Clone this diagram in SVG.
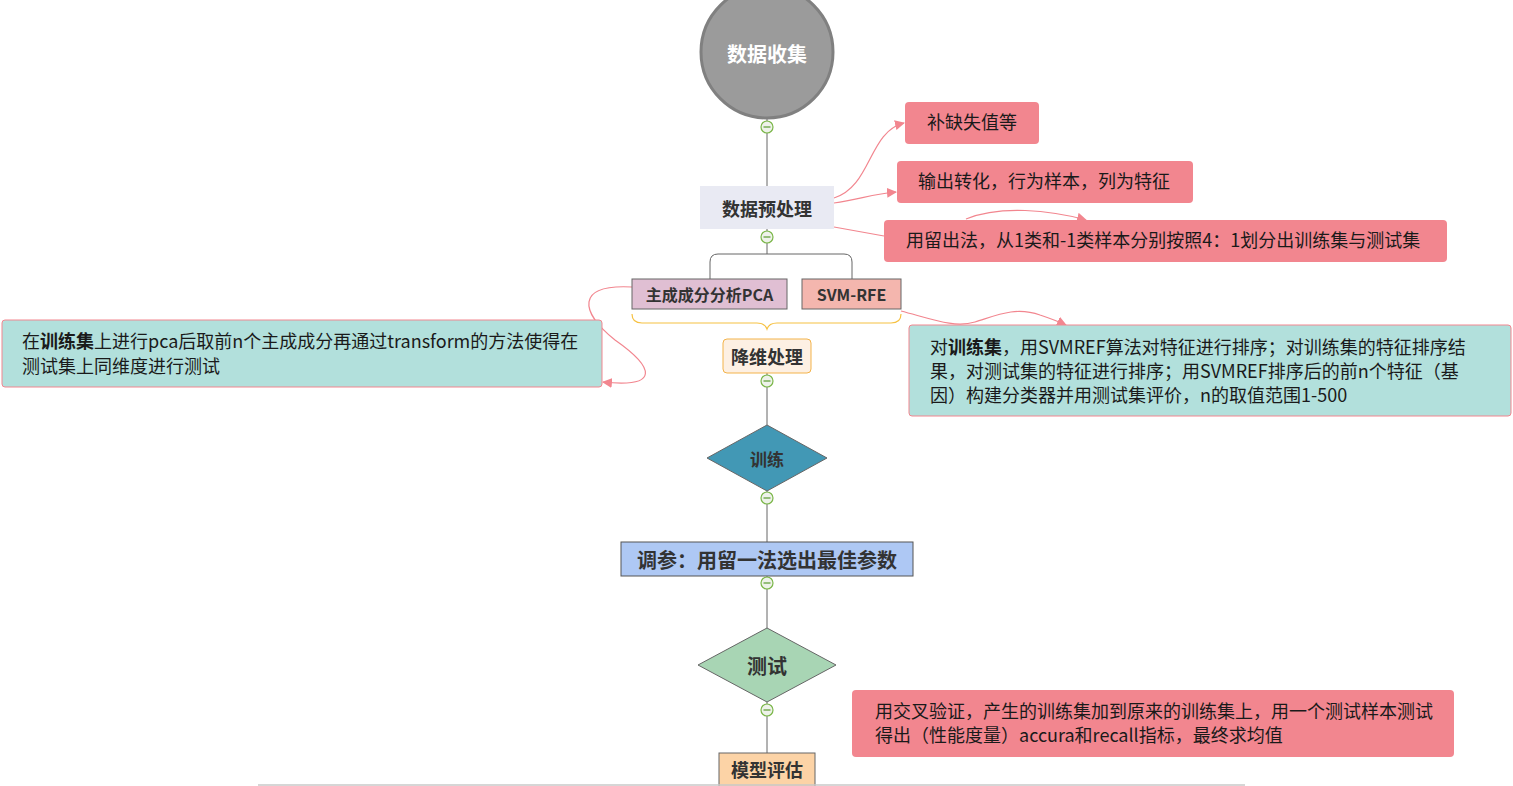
<svg xmlns="http://www.w3.org/2000/svg" width="1513" height="786" viewBox="0 0 1513 786">
<defs>
<style>
.n{font-family:"Noto Sans CJK SC","Noto Sans",sans-serif;font-weight:bold;fill:#333;text-anchor:middle;dominant-baseline:central}
.c{font-family:"Noto Sans CJK SC","Noto Sans",sans-serif;font-size:18px;fill:#1a1a1a}
.red{fill:#f2868f}
.teal{fill:#b2e0dc;stroke:#f2868f;stroke-width:1}
.ln{stroke:#666;stroke-width:1;fill:none}
.rel{stroke:#f2868f;stroke-width:1.2;fill:none}
.tg circle{fill:#eef2ea;stroke:#7ab648;stroke-width:1.2}
.tg line{stroke:#5a9a30;stroke-width:1.2}
</style>
<marker id="ah" viewBox="0 0 10 10" refX="9" refY="5" markerWidth="10" markerHeight="10" markerUnits="userSpaceOnUse" orient="auto">
<path d="M0,0 L10,5 L0,10 Z" fill="#f2868f"/>
</marker>
<symbol id="tog" overflow="visible"><g class="tg"><circle cx="0" cy="0" r="6"/><line x1="-3.5" y1="0" x2="3.5" y2="0"/></g></symbol>
</defs>
<rect width="1513" height="786" fill="#fff"/>

<g id="connectors">
<path class="ln" d="M767,119 V186"/>
<path class="ln" d="M767,229 V254 M718,254 H844 M710,279 V262 Q710,254 718,254 M852,279 V262 Q852,254 844,254"/>
<path class="ln" d="M767,373 V425"/>
<path class="ln" d="M767,491 V542"/>
<path class="ln" d="M767,576 V628"/>
<path class="ln" d="M767,702 V753"/>
<path d="M632,314 Q632,323 642,323 L757,323 Q765,323 767,329 Q769,323 777,323 L891,323 Q901,323 901,314" fill="none" stroke="#f6c142" stroke-width="1.2"/>
<path class="rel" marker-end="url(#ah)" d="M834,198 C872,186 868,132 904,123"/>
<path class="rel" marker-end="url(#ah)" d="M834,203 C858,200 872,194 896,192"/>
<path class="rel" d="M834,227 L884,236"/>
<path class="rel" marker-end="url(#ah)" d="M966,219 C1000,205 1050,210 1086,220"/>
<path class="rel" marker-end="url(#ah)" d="M632,287 C575,284 580,312 615,340 C655,368 660,388 603,382"/>
<path class="rel" marker-end="url(#ah)" d="M901,311 C935,320 955,328 975,322 C995,316 1015,306 1040,315 Q1055,320 1066,325"/>
</g>

<g id="n-collect">
<circle cx="767" cy="52" r="66" fill="#9b9b9b" stroke="#808080" stroke-width="3"/>
<text class="n" x="767" y="53" font-size="20" style="fill:#fff">数据收集</text>
</g>
<g id="n-pre">
<rect x="700" y="186" width="134" height="43" fill="#e9eaf3"/>
<text class="n" x="767" y="208" font-size="18">数据预处理</text>
</g>
<g id="n-pca">
<rect x="632" y="279" width="155" height="30" fill="#e0bfd3" stroke="#666"/>
<text class="n" x="709.5" y="294" font-size="16">主成成分分析PCA</text>
</g>
<g id="n-svm">
<rect x="802" y="279" width="99" height="30" fill="#f4b6ae" stroke="#666"/>
<text class="n" x="851.5" y="294" font-size="16">SVM-RFE</text>
</g>
<g id="n-dim">
<rect x="723" y="339" width="88" height="34" rx="4" fill="#fdf0e3" stroke="#f3b34a"/>
<text class="n" x="767" y="356" font-size="18">降维处理</text>
</g>
<g id="n-train">
<polygon points="767,425 827,458 767,491 707,458" fill="#4298b5" stroke="#666"/>
<text class="n" x="767" y="458" font-size="17">训练</text>
</g>
<g id="n-tune">
<rect x="621" y="542" width="292" height="34" fill="#aec8f4" stroke="#555"/>
<text class="n" x="767" y="559" font-size="20">调参：用留一法选出最佳参数</text>
</g>
<g id="n-test">
<polygon points="767,628 836,665 767,702 698,665" fill="#a8d5b4" stroke="#666"/>
<text class="n" x="767" y="665" font-size="20">测试</text>
</g>
<g id="n-eval">
<rect x="719" y="753" width="96" height="40" fill="#fcd3a6" stroke="#666"/>
<text class="n" x="767" y="769" font-size="18">模型评估</text>
</g>

<g id="toggles">
<use href="#tog" x="767" y="127"/>
<use href="#tog" x="767" y="237"/>
<use href="#tog" x="767" y="381"/>
<use href="#tog" x="767" y="498"/>
<use href="#tog" x="767" y="583"/>
<use href="#tog" x="767" y="710"/>
</g>

<g id="note-fill">
<rect class="red" x="905" y="102" width="134" height="42" rx="4"/>
<text class="c" x="927" y="129">补缺失值等</text>
</g>
<g id="note-out">
<rect class="red" x="897" y="161" width="296" height="42" rx="4"/>
<text class="c" x="918" y="188">输出转化，行为样本，列为特征</text>
</g>
<g id="note-split">
<rect class="red" x="884" y="220" width="563" height="42" rx="4"/>
<text class="c" x="906" y="247">用留出法，从1类和-1类样本分别按照4：1划分出训练集与测试集</text>
</g>
<g id="note-pca">
<rect class="teal" x="2" y="320" width="600" height="67" rx="3"/>
<text class="c" x="22" y="348">在<tspan font-weight="bold">训练集</tspan>上进行pca后取前n个主成成分再通过transform的方法使得在</text>
<text class="c" x="22" y="373">测试集上同维度进行测试</text>
</g>
<g id="note-svm">
<rect class="teal" x="909" y="325" width="602" height="91" rx="3"/>
<text class="c" x="930" y="354">对<tspan font-weight="bold">训练集</tspan>，用SVMREF算法对特征进行排序；对训练集的特征排序结</text>
<text class="c" x="930" y="378">果，对测试集的特征进行排序；用SVMREF排序后的前n个特征（基</text>
<text class="c" x="930" y="402">因）构建分类器并用测试集评价，n的取值范围1-500</text>
</g>
<g id="note-cv">
<rect class="red" x="852" y="690" width="602" height="67" rx="4"/>
<text class="c" x="875" y="718">用交叉验证，产生的训练集加到原来的训练集上，用一个测试样本测试</text>
<text class="c" x="875" y="742">得出（性能度量）accura和recall指标，最终求均值</text>
</g>
<line x1="258" y1="785" x2="1245" y2="785" stroke="#c8c8c8" stroke-width="1.5"/>
</svg>
